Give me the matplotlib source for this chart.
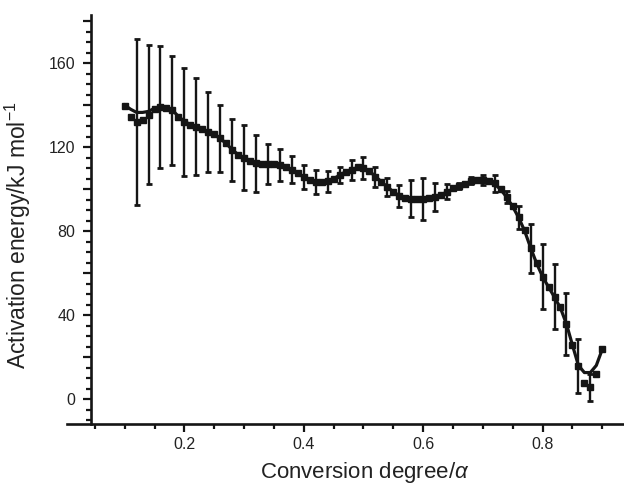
import numpy as np
import matplotlib
matplotlib.use("Agg")
import matplotlib.pyplot as plt
from matplotlib.ticker import MultipleLocator, FixedLocator, FuncFormatter

plt.rcParams['font.family'] = ['Liberation Sans', 'DejaVu Sans']
plt.rcParams['mathtext.fontset'] = 'custom'
plt.rcParams['mathtext.rm'] = 'Liberation Sans'
plt.rcParams['mathtext.it'] = 'Liberation Sans:italic'

# ---- data ----
alpha = np.round(np.arange(0.10, 0.905, 0.01), 2)

# measured activation energy at each conversion step
energy = [
    139.5, 134.5, 132.0, 133.0, 135.5, 138.0, 139.2, 138.4, 137.6, 134.1,
    132.0, 130.5, 129.7, 128.7, 127.3, 126.2, 124.1, 121.7, 118.6, 116.2,
    115.0, 113.5, 112.2, 111.9, 111.9, 111.9, 111.4, 110.6, 109.2, 107.8,
    105.6, 104.3, 103.3, 103.2, 103.7, 104.9, 106.7, 108.2, 109.0, 110.6,
    110.1, 108.7, 105.9, 103.5, 101.1, 98.7, 96.7, 95.9, 95.4, 95.2,
    95.4, 95.7, 96.3, 97.3, 98.7, 100.3, 101.4, 102.2, 104.0, 104.3,
    104.3, 103.8, 102.7, 99.8, 96.3, 91.8, 86.6, 80.5, 71.7, 64.6,
    58.2, 53.5, 48.7, 44.0, 35.7, 25.7, 15.7, 7.5, 5.6, 11.9,
    23.7,
]

# smooth fitted curve through the data
fit = [
    140.0, 138.0, 136.5, 136.5, 137.0, 138.5, 139.2, 138.6, 137.6, 134.6,
    132.3, 130.6, 129.7, 128.7, 127.3, 126.0, 124.1, 121.7, 118.8, 116.4,
    115.0, 113.5, 112.4, 111.9, 111.9, 111.8, 111.4, 110.6, 109.2, 107.6,
    105.7, 104.3, 103.4, 103.2, 103.7, 104.9, 106.6, 108.2, 109.3, 110.2,
    110.0, 108.6, 106.0, 103.5, 101.0, 98.7, 96.8, 95.8, 95.3, 95.2,
    95.3, 95.7, 96.3, 97.3, 98.6, 100.1, 101.5, 102.6, 103.6, 104.2,
    104.3, 103.7, 102.3, 99.7, 96.1, 91.6, 86.4, 80.0, 72.0, 64.6,
    58.3, 53.3, 48.5, 43.3, 35.7, 25.7, 16.0, 12.6, 12.6, 16.0,
    23.7,
]

# error bars at every second point (0.12 ... 0.88)
err_alpha = np.round(np.arange(0.12, 0.885, 0.02), 2)
err_size = [
    39.7, 32.9, 29.0, 26.0, 25.6, 23.2, 19.1, 16.0, 14.6, 15.5,
    13.7, 9.5, 7.6, 6.4, 5.8, 5.8, 4.9, 4.0, 4.8, 5.4,
    4.8, 4.3, 5.4, 8.8, 10.0, 6.8, 3.6, 1.6, 1.6, 2.6,
    3.9, 2.8, 5.4, 11.5, 15.4, 15.5, 14.8, 12.9, 6.4,
]

col = '#151515'
fig = plt.figure(figsize=(6.24, 4.86), dpi=100)
ax = fig.add_axes([67 / 624, 62 / 486, 556 / 624, 409 / 486])

err_y = [energy[int(round((a - 0.10) / 0.01))] for a in err_alpha]
ax.errorbar(err_alpha, err_y, yerr=err_size, fmt='none', ecolor=col,
            elinewidth=1.7, capsize=2.4, capthick=2.0, zorder=2)
ax.plot(alpha, fit, color=col, lw=2.3, zorder=3)
ax.plot(alpha, energy, 's', color=col, ms=3.8, zorder=4)

ax.set_xlim(0.0034, 0.9347)
ax.set_ylim(-11.9, 182.9)

for s in ['top', 'right']:
    ax.spines[s].set_visible(False)
ax.spines['left'].set_position(('data', 0.043))
ax.spines['left'].set_linewidth(1.9)
ax.spines['bottom'].set_linewidth(1.9)
ax.spines['left'].set_color(col)
ax.spines['bottom'].set_color(col)

ax.xaxis.set_major_locator(FixedLocator([0.2, 0.4, 0.6, 0.8]))
ax.xaxis.set_minor_locator(FixedLocator(np.round(np.arange(0.05, 0.91, 0.05), 2)))
ax.xaxis.set_major_formatter(FuncFormatter(lambda v, p: f'{v:.1f}'))
ax.yaxis.set_major_locator(MultipleLocator(20))
ax.yaxis.set_minor_locator(MultipleLocator(5))
ax.yaxis.set_major_formatter(FuncFormatter(lambda v, p: f'{v:.0f}' if round(v) % 40 == 0 else ''))

ax.tick_params(which='major', direction='out', length=6, width=1.6, color=col,
               labelsize=11.5, labelcolor='#222222')
ax.tick_params(which='minor', direction='out', length=3.8, width=1.6, color=col)
ax.tick_params(axis='y', which='major', pad=5)
ax.tick_params(axis='x', which='major', pad=3)

ax.set_xlabel(r'Conversion degree/$\alpha$', fontsize=16, color='#222222')
ax.set_ylabel(r'Activation energy/kJ mol$^{-1}$', fontsize=16.5, color='#222222')
ax.xaxis.set_label_coords(0.536, -0.088)
ax.yaxis.set_label_coords(-0.061, 0.462)

fig.savefig('out.png', dpi=100)
